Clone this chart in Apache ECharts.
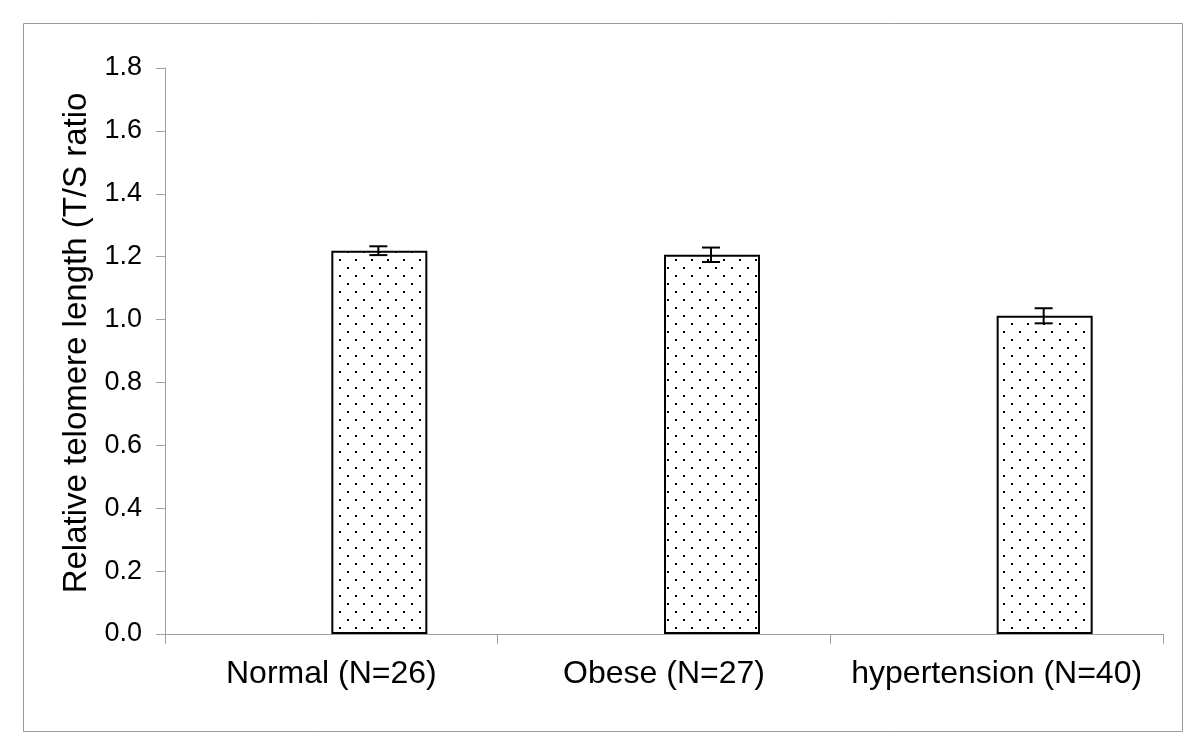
<!DOCTYPE html>
<html>
<head>
<meta charset="utf-8">
<script src="https://cdn.jsdelivr.net/npm/echarts@6/dist/echarts.min.js"></script>
<style>
html,body{margin:0;padding:0;background:#fff;}
#chart{width:1200px;height:755px;}
</style>
</head>
<body>
<div id="chart"></div>
<script>
const categories = ['Normal (N=26)', 'Obese (N=27)', 'hypertension (N=40)'];
const means = [1.219, 1.206, 1.012];
const errors = [0.014, 0.023, 0.024];
const yTicks = { min: 0, max: 1.8, interval: 0.2 };
const yAxisTitle = 'Relative telomere length (T/S ratio';

// dotted fill pattern
const pat = document.createElement('canvas');
pat.width = 16; pat.height = 16;
const pctx = pat.getContext('2d');
pctx.fillStyle = '#ffffff';
pctx.fillRect(0, 0, 16, 16);
pctx.fillStyle = '#000000';
pctx.fillRect(3, 3, 2, 2);
pctx.fillRect(11, 11, 2, 2);

const BAR_W = 96;
const FONT = '"Liberation Sans", Arial, sans-serif';

const errData = categories.map((c, i) => [i, means[i] - errors[i], means[i] + errors[i]]);

const chart = echarts.init(document.getElementById('chart'), null, { renderer: 'canvas' });
chart.setOption({
  animation: false,
  backgroundColor: '#ffffff',
  graphic: [{
    type: 'rect',
    shape: { x: 23.5, y: 23.5, width: 1159, height: 708 },
    style: { fill: 'none', stroke: '#9a9a9a', lineWidth: 1 },
    silent: true
  }],
  grid: { left: 165, right: 37, top: 68, bottom: 121, containLabel: false },
  xAxis: {
    type: 'category',
    data: categories,
    axisLine: { show: true, lineStyle: { color: '#a0a0a0', width: 1 } },
    axisTick: { show: true, interval: 0, alignWithLabel: false, length: 10, lineStyle: { color: '#a0a0a0' } },
    axisLabel: { color: '#000', fontSize: 32, fontFamily: FONT, margin: 24, interval: 0 },
    splitLine: { show: false }
  },
  yAxis: {
    type: 'value',
    min: yTicks.min, max: yTicks.max, interval: yTicks.interval,
    name: yAxisTitle,
    nameLocation: 'middle',
    nameGap: 71,
    nameTextStyle: { color: '#000', fontSize: 33, fontFamily: FONT, padding: [0, 0, 0, 16] },
    axisLine: { show: true, lineStyle: { color: '#a0a0a0', width: 1 } },
    axisTick: { show: true, inside: false, length: 9, lineStyle: { color: '#a0a0a0' } },
    axisLabel: { color: '#000', fontSize: 27, fontFamily: FONT, margin: 23,
      formatter: v => v.toFixed(1) },
    splitLine: { show: false }
  },
  series: [
    {
      type: 'bar',
      name: 'blank',
      data: categories.map(() => null),
      barWidth: BAR_W,
      barGap: '0%'
    },
    {
      type: 'bar',
      name: 'T/S ratio',
      data: means,
      barWidth: BAR_W,
      barGap: '0%',
      itemStyle: { color: { image: pat, repeat: 'repeat' }, borderColor: '#000', borderWidth: 2 }
    },
    {
      type: 'custom',
      name: 'error',
      data: errData,
      encode: { x: 0, y: [1, 2] },
      z: 10,
      renderItem: function (params, api) {
        const i = api.value(0);
        const lo = api.coord([i, api.value(1)]);
        const hi = api.coord([i, api.value(2)]);
        const x = lo[0] + BAR_W / 2 - 1;
        const cap = 9;
        const st = { stroke: '#000', lineWidth: 2 };
        return {
          type: 'group',
          children: [
            { type: 'line', shape: { x1: x, y1: lo[1], x2: x, y2: hi[1] }, style: st },
            { type: 'line', shape: { x1: x - cap, y1: lo[1], x2: x + cap, y2: lo[1] }, style: st },
            { type: 'line', shape: { x1: x - cap, y1: hi[1], x2: x + cap, y2: hi[1] }, style: st }
          ]
        };
      }
    }
  ]
});
</script>
</body>
</html>
